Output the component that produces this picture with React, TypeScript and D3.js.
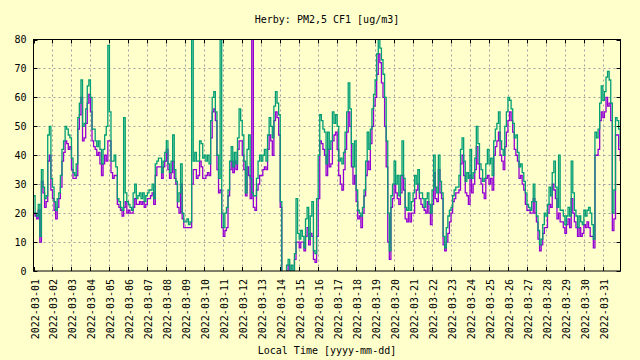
import React from "react";
import * as d3 from "d3";

// 2-hourly readings, one row per day (00..22 h), 2022-03-01 .. 2022-03-31
const sensorB: number[] = [
  26, 20, 19, 23, 12, 35, 29, 25, 26, 47, 50, 32,
  29, 24, 21, 25, 27, 33, 42, 45, 50, 49, 47, 46,
  39, 34, 33, 37, 53, 58, 66, 50, 51, 56, 64, 66,
  60, 49, 49, 45, 43, 45, 42, 37, 42, 47, 50, 78,
  55, 38, 38, 40, 36, 25, 24, 22, 21, 53, 27, 24,
  23, 22, 21, 27, 30, 25, 26, 27, 25, 27, 24, 26,
  27, 28, 28, 30, 25, 37, 38, 39, 39, 34, 38, 41,
  45, 37, 34, 38, 47, 35, 31, 24, 27, 37, 20, 17,
  17, 18, 16, 17, 85, 38, 41, 38, 38, 45, 44, 39,
  40, 38, 40, 37, 52, 60, 62, 55, 40, 32, 85, 20,
  15, 20, 22, 28, 38, 43, 36, 41, 37, 46, 56, 52,
  47, 38, 27, 42, 47, 32, 27, 26, 26, 32, 38, 40,
  38, 40, 42, 38, 47, 53, 50, 46, 57, 62, 58, 54,
  24, -5, -5, -5, 2, 4, -5, 2, -5, 6, 25, 13,
  11, 14, 12, 8, 18, 22, 11, 19, 24, 7, 6, 25,
  40, 54, 52, 49, 48, 37, 48, 42, 45, 55, 51, 54,
  50, 38, 39, 37, 41, 48, 55, 65, 56, 44, 36, 45,
  28, 21, 20, 19, 22, 28, 38, 48, 42, 49, 56, 61,
  66, 75, 82, 77, 73, 68, 60, 45, 20, 7, 26, 30,
  38, 30, 33, 26, 33, 45, 32, 22, 21, 27, 21, 24,
  27, 33, 30, 35, 27, 27, 25, 22, 25, 27, 23, 20,
  28, 40, 29, 27, 40, 31, 27, 12, 8, 15, 19, 21,
  22, 26, 28, 29, 29, 33, 42, 46, 38, 31, 34, 32,
  42, 32, 34, 39, 50, 44, 37, 35, 31, 32, 37, 42,
  37, 39, 33, 45, 49, 51, 55, 45, 42, 40, 50, 55,
  60, 59, 56, 51, 46, 47, 41, 36, 37, 34, 31, 27,
  23, 22, 21, 24, 30, 24, 19, 14, 9, 11, 16, 20,
  19, 23, 29, 26, 34, 38, 29, 22, 40, 21, 21, 19,
  16, 19, 22, 19, 38, 27, 21, 19, 15, 19, 17, 16,
  21, 19, 21, 22, 20, 16, 11, 48, 46, 49, 58, 64,
  59, 62, 67, 69, 66, 58, 20, 28, 53, 52, 49, 43,
];

const sensorA: number[] = [
  20, 19, 18, 21, 10, 31, 27, 22, 24, 38, 40, 28,
  25, 21, 18, 22, 25, 29, 38, 41, 45, 44, 42, 43,
  35, 32, 32, 33, 49, 54, 60, 45, 46, 51, 58, 61,
  55, 45, 43, 42, 40, 41, 37, 33, 37, 40, 38, 45,
  45, 34, 32, 33, 33, 23, 22, 21, 19, 22, 24, 20,
  21, 20, 20, 22, 25, 23, 23, 24, 23, 24, 22, 23,
  25, 25, 26, 27, 23, 33, 36, 36, 36, 32, 36, 38,
  42, 35, 32, 34, 38, 32, 30, 22, 20, 30, 18, 15,
  15, 15, 15, 15, 30, 35, 35, 32, 33, 38, 36, 32,
  32, 33, 34, 33, 46, 55, 56, 52, 35, 27, 28, 15,
  12, 14, 15, 26, 35, 38, 34, 38, 35, 42, 45, 45,
  40, 35, 26, 36, 33, 25, 85, 22, 21, 28, 30, 33,
  33, 35, 36, 35, 42, 47, 45, 40, 52, 55, 53, 47,
  22, -5, -5, -5, 0, 2, -5, 0, -5, 4, 10, 10,
  8, 10, 10, 7, 12, 15, 9, 13, 12, 4, 3, 12,
  25, 45, 44, 42, 40, 33, 42, 36, 37, 45, 47, 48,
  42, 33, 30, 28, 35, 42, 48, 55, 50, 36, 30, 33,
  24, 18, 19, 15, 20, 26, 33, 38, 35, 44, 50, 57,
  60, 68, 75, 72, 65, 60, 50, 36, 10, 4, 22, 25,
  30, 27, 25, 23, 27, 33, 28, 18, 17, 20, 17, 20,
  20, 25, 28, 30, 25, 23, 22, 21, 20, 24, 20, 16,
  23, 34, 25, 24, 35, 27, 25, 9, 7, 10, 13, 17,
  20, 24, 25, 27, 27, 28, 37, 40, 33, 27, 26, 23,
  33, 27, 30, 35, 43, 37, 32, 30, 27, 25, 32, 33,
  30, 32, 28, 40, 43, 45, 48, 40, 38, 35, 43, 48,
  52, 55, 52, 48, 42, 40, 38, 32, 33, 30, 28, 23,
  21, 21, 20, 20, 25, 20, 17, 11, 7, 9, 13, 15,
  15, 20, 23, 22, 30, 28, 25, 18, 20, 17, 17, 15,
  13, 16, 18, 15, 25, 20, 17, 15, 12, 15, 12, 13,
  16, 15, 17, 15, 12, 12, 8, 40, 40, 42, 52, 55,
  53, 55, 60, 57, 58, 52, 14, 18, 47, 47, 42, 38,
];

const yTicks: number[] = [0, 10, 20, 30, 40, 50, 60, 70, 80];
const titleText = "Herby: PM2,5 CF1 [ug/m3]";
const xLabelText = "Local Time [yyyy-mm-dd]";

const W = 640, H = 360;
const L = 33.5, R = 620.5, T = 39.5, B = 271;
const FONT = "'DejaVu Sans Mono', monospace";

const start = new Date(Date.UTC(2022, 2, 1, 0, 0));
const end = new Date(Date.UTC(2022, 2, 31, 22, 20));
const stepMs = 2 * 3600 * 1000;

export default function App() {
  const x = d3.scaleUtc().domain([start, end]).range([L, R]);
  const y = d3.scaleLinear().domain([0, 80]).range([B, T]);
  const days = d3.utcDay.range(start, end);
  const fmt = d3.utcFormat("%Y-%m-%d");

  const toPts = (arr: number[]) => arr.map((v, i) => ({ t: new Date(start.getTime() + i * stepMs), v }));
  const line = d3
    .line<{ t: Date; v: number }>()
    .x((d) => x(d.t))
    .y((d) => y(d.v))
    .curve(d3.curveStepAfter);

  return (
    <svg width={W} height={H} style={{ position: "absolute", left: 0, top: 0, background: "#ffffcc" }}>
      <rect x={0} y={0} width={W} height={H} fill="#ffffcc" />
      <defs>
        <clipPath id="plot">
          <rect x={L} y={T} width={R - L} height={B - T} />
        </clipPath>
      </defs>
      <g stroke="#a0a0a0" strokeWidth={1} strokeDasharray="2,3">
        {yTicks.slice(1, -1).map((v) => (
          <line key={"gy" + v} x1={L} x2={R} y1={Math.round(y(v)) + 0.5} y2={Math.round(y(v)) + 0.5} />
        ))}
        {days.slice(1).map((d) => (
          <line key={"gx" + d.getTime()} x1={Math.round(x(d)) + 0.5} x2={Math.round(x(d)) + 0.5} y1={T} y2={B} />
        ))}
      </g>
      <g clipPath="url(#plot)" fill="none" strokeWidth={1.3}>
        <path d={line(toPts(sensorA)) || ""} stroke="#9400d3" />
        <path d={line(toPts(sensorB)) || ""} stroke="#009e73" />
      </g>
      <g stroke="#000" strokeWidth={1}>
        {yTicks.map((v) => (
          <g key={"ty" + v}>
            <line x1={L} x2={L + 4} y1={Math.round(y(v)) + 0.5} y2={Math.round(y(v)) + 0.5} />
            <line x1={R - 4} x2={R} y1={Math.round(y(v)) + 0.5} y2={Math.round(y(v)) + 0.5} />
          </g>
        ))}
        {days.map((d) => (
          <g key={"tx" + d.getTime()}>
            <line x1={Math.round(x(d)) + 0.5} x2={Math.round(x(d)) + 0.5} y1={B} y2={B - 4} />
            <line x1={Math.round(x(d)) + 0.5} x2={Math.round(x(d)) + 0.5} y1={T} y2={T + 4} />
          </g>
        ))}
      </g>
      <rect x={L} y={T} width={R - L} height={B - T} fill="none" stroke="#000" strokeWidth={1} />
      <g fontFamily={FONT} fontSize={10} fill="#000">
        {yTicks.map((v) => (
          <text key={"ly" + v} x={26.5} y={y(v)} textAnchor="end" dominantBaseline="central">
            {v}
          </text>
        ))}
        {days.map((d) => (
          <text
            key={"lx" + d.getTime()}
            transform={`translate(${x(d) + 1.5},${279}) rotate(-90)`}
            textAnchor="end"
            dominantBaseline="central"
          >
            {fmt(d)}
          </text>
        ))}
        <text x={(L + R) / 2} y={23} textAnchor="middle">
          {titleText}
        </text>
        <text x={(L + R) / 2} y={354} textAnchor="middle">
          {xLabelText}
        </text>
      </g>
    </svg>
  );
}
